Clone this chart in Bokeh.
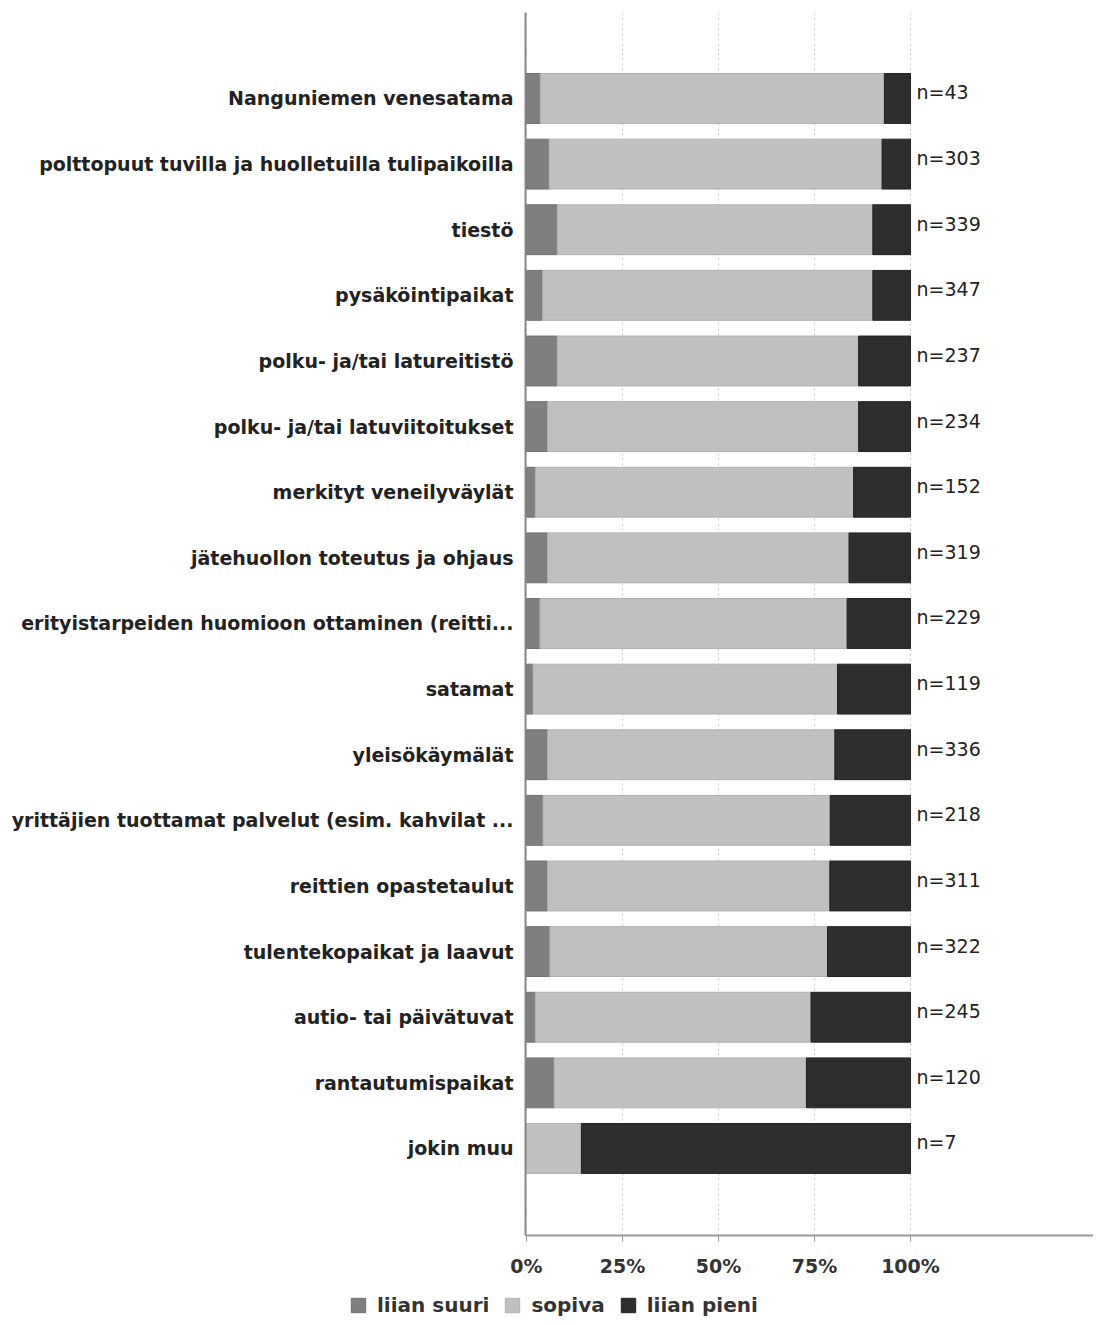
from bokeh.plotting import figure
from bokeh.models import ColumnDataSource, Range1d, FixedTicker, Legend, LegendItem
from bokeh.layouts import column, row
from bokeh.core.properties import value
from bokeh.embed import file_html
from bokeh.resources import INLINE

categories = [
    "Nanguniemen venesatama",
    "polttopuut tuvilla ja huolletuilla tulipaikoilla",
    "tiestö",
    "pysäköintipaikat",
    "polku- ja/tai latureitistö",
    "polku- ja/tai latuviitoitukset",
    "merkityt veneilyväylät",
    "jätehuollon toteutus ja ohjaus",
    "erityistarpeiden huomioon ottaminen (reitti...",
    "satamat",
    "yleisökäymälät",
    "yrittäjien tuottamat palvelut (esim. kahvilat ...",
    "reittien opastetaulut",
    "tulentekopaikat ja laavut",
    "autio- tai päivätuvat",
    "rantautumispaikat",
    "jokin muu",
]
liian_suuri = [3.6, 5.9, 8.0, 4.2, 8.0, 5.5, 2.3, 5.5, 3.5, 1.7, 5.5, 4.3, 5.5, 6.1, 2.3, 7.2, 0.0]
sopiva = [89.6, 86.7, 82.2, 86.0, 78.5, 81.0, 82.9, 78.5, 80.0, 79.3, 74.8, 74.8, 73.5, 72.3, 71.8, 65.7, 14.3]
liian_pieni = [6.8, 7.4, 9.8, 9.8, 13.5, 13.5, 14.8, 16.0, 16.5, 19.0, 19.7, 20.9, 21.0, 21.6, 25.9, 27.1, 85.7]
n_values = [43, 303, 339, 347, 237, 234, 152, 319, 229, 119, 336, 218, 311, 322, 245, 120, 7]
x_ticks = [0, 25, 50, 75, 100]
x_tick_labels = ["0%", "25%", "50%", "75%", "100%"]
series_names = ["liian suuri", "sopiva", "liian pieni"]
colors = ["#7f7f7f", "#c0c0c0", "#2e2e2e"]
outline = ["#707070", "#b0b0b0", "#202020"]

N = len(categories)
ys = [N - 1 - i for i in range(N)]

src = ColumnDataSource(dict(
    y=ys,
    s=[v / 100 for v in liian_suuri],
    o=[v / 100 for v in sopiva],
    p=[v / 100 for v in liian_pieni],
    ntext=["n=%d" % n for n in n_values],
    xend=[(a + b + c) / 100 for a, b, c in zip(liian_suuri, sopiva, liian_pieni)],
))

W = 1093
p = figure(width=W, height=1279, output_backend="svg", toolbar_location=None,
           x_range=Range1d(-1 / 384, (W - 525 - 1) / 384),
           y_range=Range1d(-1.326, N - 1 + 1.31),
           min_border_left=525, min_border_right=0, min_border_top=12, min_border_bottom=41)
p.outline_line_color = None
p.background_fill_color = "white"

renderers = p.hbar_stack(["s", "o", "p"], y="y", height=0.76, source=src,
                         fill_color=colors, line_color=outline, line_width=1)

p.text(x="xend", y="y", text="ntext", source=src, x_offset=6, y_offset=-6,
       text_baseline="middle", text_align="left", text_font=value("DejaVu Sans"),
       text_font_size="19px", text_color="#222222")

# axes
p.xaxis.ticker = FixedTicker(ticks=[t / 100 for t in x_ticks])
p.xaxis.major_label_overrides = {t / 100: l for t, l in zip(x_ticks, x_tick_labels)}
p.xaxis.major_tick_in = 0
p.xaxis.major_tick_out = 6
p.xaxis.minor_tick_line_color = None
p.xaxis.axis_line_color = "#999999"
p.xaxis.axis_line_width = 2
p.xaxis.major_tick_line_color = "#999999"
p.xaxis.major_label_text_font = "DejaVu Sans"
p.xaxis.major_label_text_font_style = "bold"
p.xaxis.major_label_text_font_size = "19px"
p.xaxis.major_label_text_color = "#333333"
p.xaxis.major_label_standoff = 13

p.yaxis.ticker = FixedTicker(ticks=ys)
p.yaxis.major_label_overrides = {y: c for y, c in zip(ys, categories)}
p.yaxis.major_tick_line_color = None
p.yaxis.minor_tick_line_color = None
p.yaxis.axis_line_color = "#888888"
p.yaxis.axis_line_width = 2
p.yaxis.major_label_text_font = "DejaVu Sans"
p.yaxis.major_label_text_font_style = "bold"
p.yaxis.major_label_text_font_size = "19px"
p.yaxis.major_label_text_color = "#222222"
p.yaxis.major_label_standoff = 6

p.ygrid.grid_line_color = None
p.xgrid.grid_line_color = "#cccccc"
p.xgrid.grid_line_dash = "2 3"

# legend panel below the chart
lg = figure(width=W, height=38, output_backend="svg", toolbar_location=None,
            min_border=0, x_range=Range1d(0, 1), y_range=Range1d(0, 1),
            x_axis_location=None, y_axis_location=None)
lg.grid.visible = False
lg.outline_line_color = None
dummies = [lg.rect(x=[-5], y=[-5], width=1, height=1, fill_color=c, line_color=o)
           for c, o in zip(colors, outline)]
legend = Legend(items=[LegendItem(label=n, renderers=[r]) for n, r in zip(series_names, dummies)],
                orientation="horizontal", location=(349, 0))
legend.border_line_color = None
legend.background_fill_alpha = 0
legend.padding = 0
legend.margin = 0
legend.spacing = 14
legend.glyph_width = 18
legend.glyph_height = 18
legend.label_standoff = 10
legend.label_text_font = "DejaVu Sans"
legend.label_text_font_style = "bold"
legend.label_text_font_size = "20px"
legend.label_text_color = "#333333"
lg.add_layout(legend, "center")

open("out.html", "w").write(file_html(column(p, row(lg)), INLINE))
